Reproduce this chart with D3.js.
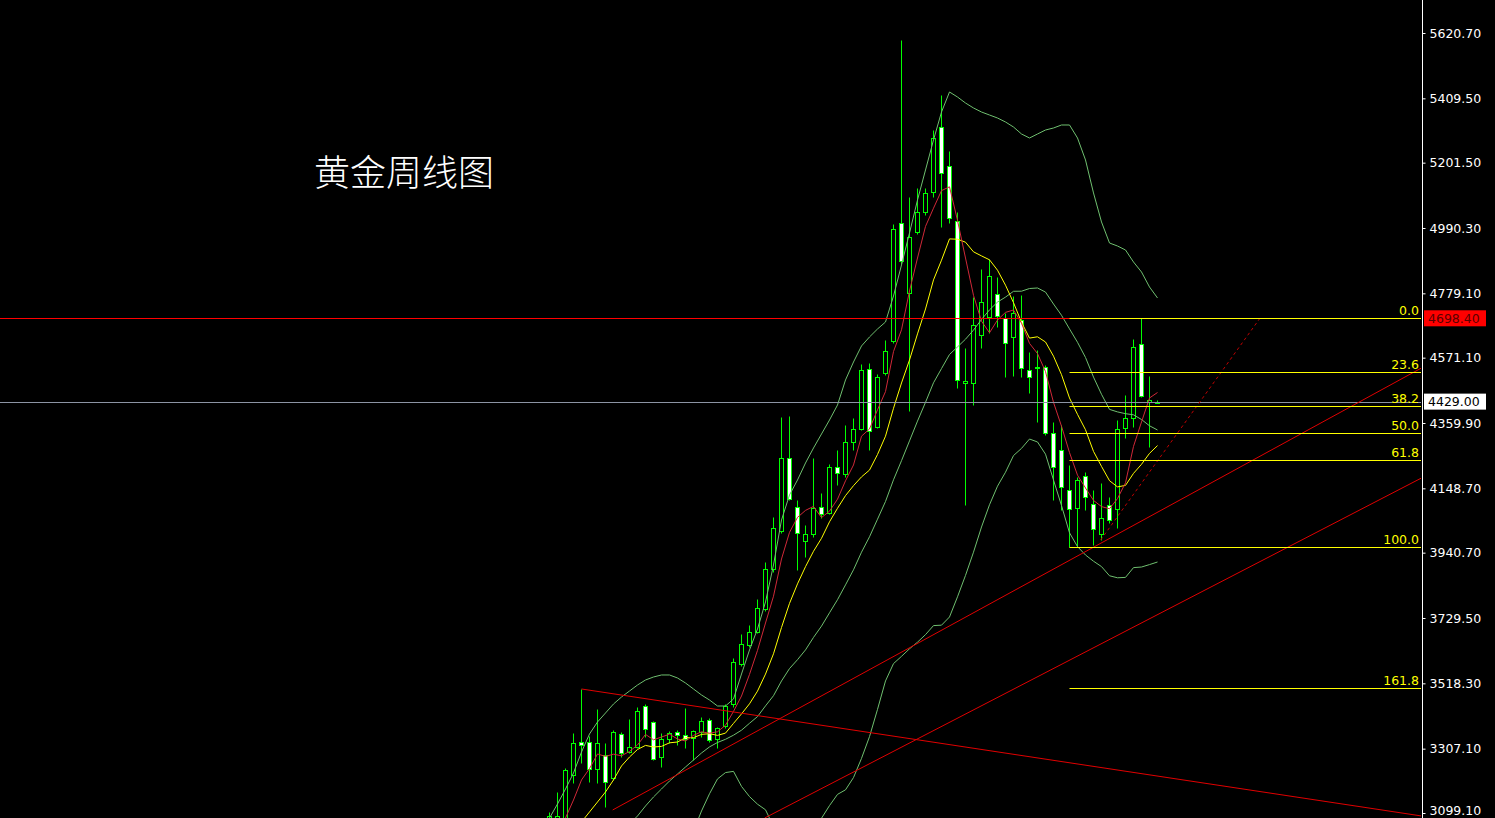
<!DOCTYPE html>
<html><head><meta charset="utf-8">
<script src="https://cdn.jsdelivr.net/npm/d3@7"></script>
<style>html,body{margin:0;padding:0;background:#000;overflow:hidden}</style>
</head><body>
<svg id="chart" width="1495" height="818"></svg>
<script>
// ---- DATA (weekly gold candles) ----
const weekIndex = d3.range(77);
const opens = [3028.0,3050.7,3070.1,3222.0,3328.6,3328.6,3241.4,3286.6,3212.3,3354.5,3296.3,3312.5,3445.0,3393.3,3280.1,3338.3,3361.0,3351.3,3341.6,3361.0,3399.7,3338.3,3380.3,3451.5,3580.8,3642.2,3684.3,3758.6,3887.9,4010.8,4246.8,4088.4,3978.5,4001.1,4088.4,4069.0,4217.7,4195.1,4298.5,4340.6,4534.5,4347.0,4521.6,4625.1,5006.4,4780.2,4977.4,5042.0,5106.7,5316.8,5190.7,5012.9,4489.3,4489.3,4644.5,4702.6,4777.0,4699.4,4638.0,4692.9,4531.3,4541.0,4541.0,4327.6,4272.7,4143.3,4085.1,4188.6,4098.1,4001.1,4094.8,4081.9,4343.8,4376.1,4615.4,4427.8,4427.0];
const highs = [3102.4,3167.1,3244.6,3357.7,3500.0,3348.0,3435.3,3325.4,3367.4,3361.0,3403.0,3441.8,3451.5,3396.5,3357.7,3364.2,3367.4,3438.5,3367.4,3409.4,3406.2,3377.1,3451.5,3600.2,3677.8,3706.9,3791.0,3910.6,4056.0,4379.3,4382.6,4111.0,4030.2,4246.8,4133.6,4227.4,4272.7,4353.5,4376.1,4550.7,4553.9,4518.4,4628.3,5003.2,5598.1,5090.5,5119.6,5119.6,5307.1,5420.3,5239.2,5042.0,4602.4,4767.3,4857.7,4890.1,4831.9,4715.6,4770.5,4773.8,4589.4,4595.9,4547.5,4363.2,4353.5,4224.2,4185.4,4201.6,4143.3,4166.0,4120.7,4369.6,4450.5,4631.6,4698.4,4511.9,4433.0];
const lows = [3011.9,3024.8,3057.1,3196.2,3260.7,3199.4,3196.2,3118.6,3205.9,3280.1,3293.1,3309.2,3344.8,3270.4,3247.8,3325.4,3318.9,3309.2,3270.4,3344.8,3328.6,3309.2,3373.9,3441.8,3574.3,3635.8,3681.0,3752.1,3878.2,4004.3,4111.0,3884.7,3926.7,3991.4,4052.8,4065.7,4159.5,4185.4,4272.7,4337.3,4272.7,4343.8,4515.1,4618.6,4873.9,4398.7,4970.9,5032.3,5090.5,4993.5,5006.4,4473.1,4094.8,4418.1,4602.4,4651.0,4670.3,4508.7,4511.9,4508.7,4457.0,4363.2,4321.2,4111.0,4078.7,3959.0,3962.3,4078.7,3965.6,3981.7,4036.6,4020.5,4311.4,4347.0,4444.0,4282.4,4424.0];
const closes = [3089.5,3089.5,3238.2,3325.4,3318.9,3241.4,3325.4,3199.4,3361.0,3293.1,3312.5,3428.8,3370.7,3273.6,3338.3,3357.7,3351.3,3338.3,3364.2,3396.5,3335.1,3373.9,3445.0,3587.3,3645.5,3684.3,3761.8,3887.9,4020.5,4246.8,4114.2,4004.3,4001.1,4085.1,4065.7,4217.7,4198.3,4298.5,4340.6,4531.3,4334.1,4508.7,4592.7,4987.1,4883.6,4961.2,5042.0,5103.4,5281.3,5168.1,5022.6,4499.0,4495.8,4676.8,4751.1,4835.1,4705.9,4618.6,4715.6,4537.8,4508.7,4537.8,4327.6,4217.7,4153.1,4081.9,4175.7,4120.7,4017.3,4052.8,4046.3,4340.6,4376.1,4605.6,4447.2,4434.3,4429.0];

// indicator lines
const maFast = [2995.7,3037.8,3083.0,3141.2,3205.9,3242.7,3289.8,3282.1,3289.2,3284.0,3298.2,3318.9,3353.2,3335.7,3344.8,3353.8,3338.3,3331.8,3350.0,3361.6,3357.1,3361.6,3382.9,3427.5,3477.3,3547.2,3624.8,3713.3,3800.0,3920.3,4006.3,4054.8,4077.4,4090.3,4054.1,4074.8,4113.6,4173.1,4224.2,4317.3,4340.6,4402.6,4461.5,4590.8,4661.3,4786.7,4893.3,4995.5,5054.3,5111.2,5123.5,5014.9,4893.3,4772.5,4689.1,4651.6,4692.9,4717.5,4725.3,4682.6,4617.3,4584.3,4526.1,4426.5,4349.6,4264.3,4191.2,4149.8,4109.7,4089.7,4082.6,4115.5,4166.6,4284.3,4363.2,4440.8,4458.5];
const maSlow = [2914.9,2963.4,3005.4,3044.2,3070.1,3102.4,3134.7,3167.1,3205.9,3251.1,3280.1,3304.4,3317.6,3312.5,3314.4,3326.0,3328.6,3342.5,3342.8,3353.2,3355.5,3350.0,3357.4,3388.8,3419.5,3452.1,3493.2,3548.2,3613.8,3698.8,3776.7,3839.8,3895.4,3945.2,3987.2,4040.5,4084.2,4125.2,4157.3,4185.7,4207.7,4258.1,4317.3,4407.5,4489.3,4563.6,4648.0,4728.5,4822.5,4886.2,4955.0,4954.1,4944.4,4913.3,4900.1,4887.5,4853.9,4805.4,4748.9,4685.8,4634.4,4638.6,4621.8,4575.9,4516.1,4440.8,4387.8,4338.0,4268.1,4219.6,4173.4,4153.4,4158.2,4197.0,4226.4,4261.7,4286.9];
const bandUpper = [3083.0,3128.2,3176.7,3228.5,3296.3,3354.5,3393.3,3422.4,3451.5,3474.1,3493.5,3512.9,3529.1,3538.8,3545.3,3545.3,3535.6,3519.4,3500.0,3480.6,3464.4,3445.0,3445.0,3467.7,3548.5,3626.1,3694.0,3781.3,3900.9,4046.3,4127.2,4175.7,4230.6,4279.1,4324.4,4369.6,4418.1,4499.0,4557.1,4608.9,4638.0,4663.8,4686.4,4770.5,4870.7,4974.2,5080.8,5177.8,5274.8,5365.3,5430.0,5413.8,5394.4,5378.3,5365.3,5355.6,5345.9,5333.0,5316.8,5294.2,5281.3,5294.2,5307.1,5313.6,5323.3,5323.3,5281.3,5210.2,5103.5,5009.7,4941.8,4932.1,4919.2,4880.4,4848.1,4799.6,4764.1];
const bandMid = [2805.0,2830.8,2856.7,2882.5,2908.4,2934.3,2960.1,2986.0,3011.9,3037.8,3063.6,3089.5,3121.8,3150.9,3176.7,3202.6,3225.2,3247.8,3270.4,3293.1,3312.8,3327.1,3337.4,3350.7,3366.8,3389.1,3410.8,3445.4,3478.3,3525.9,3566.0,3594.7,3626.4,3666.8,3703.3,3746.3,3788.7,3836.5,3885.4,3942.3,3992.0,4048.9,4106.2,4176.3,4238.1,4302.1,4366.1,4426.8,4489.9,4535.8,4581.4,4605.9,4630.8,4660.3,4694.5,4725.6,4750.8,4766.9,4785.7,4786.0,4794.7,4796.4,4783.1,4744.6,4708.1,4664.1,4620.8,4571.7,4508.3,4452.7,4403.9,4395.8,4390.0,4386.4,4371.2,4350.9,4337.3];
const bandLower = [2527.0,2533.4,2536.7,2536.5,2520.5,2514.1,2526.9,2549.6,2572.3,2601.5,2633.7,2666.1,2714.5,2763.0,2808.1,2859.9,2914.8,2976.2,3040.8,3105.6,3161.2,3209.2,3229.8,3233.7,3185.1,3152.1,3127.6,3109.5,3055.7,3005.5,3004.8,3013.7,3022.2,3054.5,3082.2,3123.0,3159.3,3174.0,3213.7,3275.7,3346.0,3434.0,3526.0,3582.1,3605.5,3630.0,3651.4,3675.8,3705.0,3706.3,3732.8,3798.0,3867.2,3942.3,4023.7,4095.6,4155.7,4200.8,4254.6,4277.8,4308.1,4298.6,4259.1,4175.6,4092.9,4004.9,3960.3,3933.2,3913.1,3895.7,3866.0,3859.5,3860.8,3892.4,3894.3,3902.2,3910.5];

// price axis
const yTickValues = [5620.70,5409.50,5201.50,4990.30,4779.10,4571.10,4359.90,4148.70,3940.70,3729.50,3518.30,3307.10,3099.10];
// fibonacci retracement
const fibLabels = ["0.0","23.6","38.2","50.0","61.8","100.0","161.8"];
const fibPrices = [4698.4,4523.9,4416.0,4328.7,4241.4,3959.0,3502.0];
const fibStart = 65;
// trend lines [index, price]
const trendStarts = [[4,3500.0],[7.9,3108.9],[26.9,3083.0]];
const trendEnds = [[109,3089.5],[109,4537.8],[109,4182.1]];
const dashedLine = [[68.9,3981.7],[88.8,4698.4]];
// horizontal price lines / tags
const highLevel = 4698.4;
const bidLevel = 4429.0;
const title = "黄金周线图";

// ---- DRAW ----
const svg = d3.select("#chart");
svg.append("rect").attr("width",1495).attr("height",818).attr("fill","#000");
const x = d3.scaleLinear().domain([0,109]).range([549.5,1421.5]);
const y = d3.scaleLinear().domain([3099.1,5620.7]).range([813,33]);
const py = v => Math.round(y(v)) + 0.5;

svg.append("defs").append("clipPath").attr("id","plot")
  .append("rect").attr("x",0).attr("y",0).attr("width",1421).attr("height",818);
const plot = svg.append("g").attr("clip-path","url(#plot)");

// title
svg.append("text").attr("x",314).attr("y",186).text(title)
  .attr("fill","#fff").attr("font-family","'Noto Sans CJK SC'").attr("font-weight",300).attr("font-size",36);

// candles
const candle = plot.append("g").selectAll("g").data(weekIndex).join("g");
candle.append("line")
  .attr("x1",i=>x(i)).attr("x2",i=>x(i))
  .attr("y1",i=>py(highs[i])).attr("y2",i=>py(lows[i]))
  .attr("stroke","#00ff00").attr("stroke-width",1);
candle.append("rect")
  .attr("x",i=>x(i)-2).attr("width",4)
  .attr("y",i=>py(Math.max(opens[i],closes[i])))
  .attr("height",i=>Math.max(1, py(Math.min(opens[i],closes[i])) - py(Math.max(opens[i],closes[i]))))
  .attr("fill",i=>closes[i]>=opens[i] ? "#000" : "#fff")
  .attr("stroke","#00ff00").attr("stroke-width",1);

// indicator lines
const line = d3.line().x((d,i)=>x(i)).y(d=>y(d));
[[bandUpper,"#6fbf6f"],[bandMid,"#6fbf6f"],[bandLower,"#6fbf6f"],[maSlow,"#ffff00"],[maFast,"#d02838"]]
  .forEach(([arr,col])=>{
    plot.append("path").attr("d",line(arr)).attr("fill","none")
      .attr("stroke",col).attr("stroke-width",1);
  });

// horizontal lines
plot.append("line").attr("x1",0).attr("x2",1421).attr("y1",py(bidLevel)).attr("y2",py(bidLevel))
  .attr("stroke","#8c94a4").attr("stroke-width",1);
plot.append("line").attr("x1",0).attr("x2",1421).attr("y1",py(highLevel)).attr("y2",py(highLevel))
  .attr("stroke","#ff0000").attr("stroke-width",1);

// trend lines
trendStarts.forEach((s,k)=>{
  const e = trendEnds[k];
  plot.append("line").attr("x1",x(s[0])).attr("y1",y(s[1])).attr("x2",x(e[0])).attr("y2",y(e[1]))
    .attr("stroke","#e00000").attr("stroke-width",1);
});
plot.append("line").attr("x1",x(dashedLine[0][0])).attr("y1",y(dashedLine[0][1]))
  .attr("x2",x(dashedLine[1][0])).attr("y2",y(dashedLine[1][1]))
  .attr("stroke","#c00000").attr("stroke-width",1).attr("stroke-dasharray","3,3");

// fibonacci
const fib = plot.append("g");
fibPrices.forEach((p,k)=>{
  fib.append("line").attr("x1",x(fibStart)).attr("x2",1421).attr("y1",py(p)).attr("y2",py(p))
    .attr("stroke","#ffff00").attr("stroke-width",1);
  fib.append("text").attr("x",1419).attr("y",py(p)-3.5).attr("text-anchor","end")
    .attr("fill","#ffff00").attr("font-family","'DejaVu Sans'").attr("font-size",12.5)
    .text(fibLabels[k]);
});

// price axis
const axisG = svg.append("g").attr("transform","translate(1422.5,0)");
axisG.append("line").attr("x1",0).attr("x2",0).attr("y1",0).attr("y2",818).attr("stroke","#fff");
const yAxis = d3.axisRight(y).tickValues(yTickValues).tickFormat(d3.format(".2f")).tickSize(3).tickPadding(4);
axisG.call(yAxis);
axisG.select(".domain").remove();
axisG.selectAll(".tick line").attr("stroke","#fff");
axisG.selectAll(".tick text").attr("fill","#fff").attr("font-family","'DejaVu Sans'").attr("font-size",12.5);
// keep the lowest label fully inside the frame
axisG.selectAll(".tick text").filter(d=>d===yTickValues[yTickValues.length-1]).attr("dy","0.1em");

// price tags
[[highLevel,"#ff0000","#5a0000"],[bidLevel,"#ffffff","#000000"]].forEach(([v,bg,fg])=>{
  const yy = y(v);
  svg.append("rect").attr("x",1424).attr("y",yy-8).attr("width",62).attr("height",16).attr("fill",bg);
  svg.append("text").attr("x",1428).attr("y",yy+4.5).text(d3.format(".2f")(v))
    .attr("fill",fg).attr("font-family","'DejaVu Sans'").attr("font-size",12.5);
});
</script>
</body></html>
